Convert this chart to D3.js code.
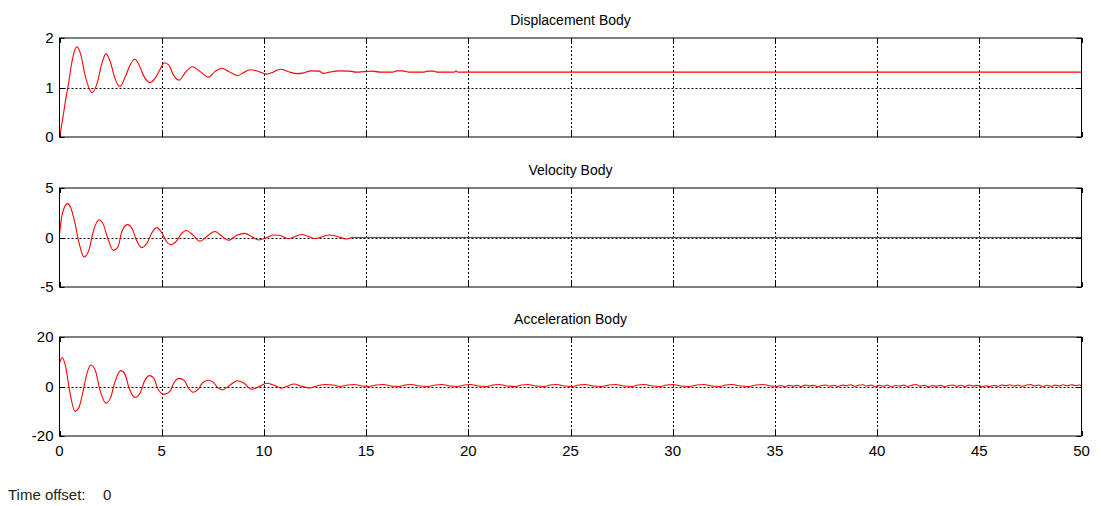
<!DOCTYPE html>
<html>
<head>
<meta charset="utf-8">
<script src="https://cdn.jsdelivr.net/npm/d3@7"></script>
<style>
  html, body { margin: 0; padding: 0; background: #fff; }
  svg { display: block; }
  text { font-family: "Liberation Sans", Arial, Helvetica, sans-serif; fill: #000; }
</style>
</head>
<body>
<svg id="chart" width="1101" height="506"></svg>
<script>
// Time axis ticks shared by all three scopes
const timeTicks = [0, 5, 10, 15, 20, 25, 30, 35, 40, 45, 50];

// Displacement of the body, [time, value]
const displacement = [
  [0, 0], [0.15, 0.35], [0.3, 0.75], [0.45, 1.1], [0.6, 1.5], [0.85, 1.82], [1.05, 1.65],
  [1.25, 1.25], [1.6, 0.9], [1.85, 1.1], [2.05, 1.45], [2.27, 1.68], [2.5, 1.5], [2.7, 1.2],
  [2.96, 1.02], [3.2, 1.2], [3.45, 1.45], [3.68, 1.57], [3.9, 1.45], [4.1, 1.25], [4.43, 1.1],
  [4.7, 1.2], [4.9, 1.35], [5.13, 1.5], [5.35, 1.45], [5.55, 1.27], [5.85, 1.15], [6.15, 1.3],
  [6.5, 1.42], [6.8, 1.35], [7.28, 1.21], [7.6, 1.32], [7.93, 1.39], [8.3, 1.32], [8.72, 1.24],
  [9.0, 1.3], [9.32, 1.36], [9.7, 1.33], [10.14, 1.27], [10.45, 1.31], [10.79, 1.37], [11.2, 1.32],
  [11.6, 1.28], [11.9, 1.29], [12.3, 1.335], [12.7, 1.33], [12.9, 1.285], [13.2, 1.31],
  [13.7, 1.335], [14.2, 1.33], [14.5, 1.31], [14.9, 1.32], [15.3, 1.33], [15.7, 1.31],
  [16.3, 1.31], [16.5, 1.335], [16.8, 1.335], [17.1, 1.31], [17.8, 1.31], [18.0, 1.33],
  [18.3, 1.33], [18.5, 1.31], [19.3, 1.31], [19.4, 1.335], [19.5, 1.31], [50, 1.31]
];

// Velocity of the body, [time, value]
const velocity = [
  [0, 0.3], [0.1, 2.0], [0.25, 3.1], [0.4, 3.42], [0.55, 3.0], [0.75, 1.5], [0.95, -0.5],
  [1.2, -1.97], [1.45, -1.2], [1.65, 0.6], [1.93, 1.8], [2.15, 1.3], [2.35, 0], [2.63, -1.3],
  [2.85, -1.0], [3.05, 0.6], [3.32, 1.3], [3.55, 0.9], [3.75, -0.2], [4.02, -1.02], [4.3, -0.5],
  [4.5, 0.4], [4.75, 1.0], [5.0, 0.5], [5.2, -0.3], [5.45, -0.72], [5.75, -0.3], [5.95, 0.35],
  [6.22, 0.7], [6.5, 0.3], [6.87, -0.38], [7.2, 0.1], [7.6, 0.6], [7.9, 0.2], [8.26, -0.28],
  [8.7, 0.25], [9.07, 0.42], [9.4, 0.1], [9.75, -0.25], [10.1, -0.05], [10.45, 0.25],
  [10.75, 0.22], [11.2, -0.12], [11.85, 0.3], [12.5, -0.1], [13.2, 0.25], [13.6, 0.1],
  [14.05, -0.15], [14.3, 0], [50, 0]
];

// Acceleration of the body, [time, value]
const acceleration = [
  [0, 9.5], [0.14, 11.7], [0.3, 8], [0.5, -2], [0.76, -10], [0.95, -8.5], [1.15, -2],
  [1.35, 5.5], [1.53, 8.7], [1.75, 6.5], [2.0, -2], [2.27, -6.7], [2.5, -4.5], [2.7, 1.5],
  [2.99, 6.4], [3.2, 5], [3.4, -0.5], [3.69, -4.4], [3.95, -2.5], [4.15, 2], [4.39, 4.4],
  [4.6, 3.5], [4.85, -1.5], [5.13, -3.1], [5.4, -2], [5.6, 1.5], [5.85, 3.3], [6.1, 2.5],
  [6.3, -0.5], [6.55, -2.3], [6.8, -1], [7.0, 1.5], [7.28, 2.5], [7.55, 1.5], [7.75, -0.5],
  [7.98, -1.3], [8.3, 0.3], [8.7, 2.3], [9.0, 1.5], [9.4, -1.1], [9.7, -0.3], [10.14, 1.3],
  [10.5, 0.5], [10.87, -0.7], [11.2, 0.3], [11.47, 1.0], [11.8, 0.2], [12.25, -0.6],
  [12.7, 0.5], [13.0, 0.8], [13.4, 0.6], [13.7, 0], [14.1, 0.6], [14.4, 0.8], [14.8, 0.2],
  [15.1, 0], [15.5, 0.6], [15.85, 0.8], [16.2, 0.2], [16.6, 0], [16.9, 0.6], [17.2, 0.8],
  [17.6, 0.2], [18.0, 0], [18.4, 0.6], [18.7, 0.8], [19.1, 0.2], [19.5, 0], [19.8, 0.6],
  [20.1, 0.8], [20.5, 0.2], [20.9, 0], [21.2, 0.6], [21.5, 0.8], [21.9, 0.2], [22.3, 0],
  [22.6, 0.6], [22.9, 0.8], [23.3, 0.2], [23.7, 0], [24.0, 0.6], [24.3, 0.8], [24.7, 0.2],
  [25.1, 0], [25.4, 0.6], [25.7, 0.8], [26.1, 0.2], [26.5, 0], [26.9, 0.6], [27.2, 0.8],
  [27.6, 0.2], [28.0, 0], [28.3, 0.6], [28.6, 0.8], [29.0, 0.2], [29.4, 0], [29.7, 0.6],
  [30.0, 0.8], [30.4, 0.2], [30.8, 0], [31.2, 0.6], [31.5, 0.8], [31.9, 0.2], [32.3, 0],
  [32.6, 0.6], [32.9, 0.8], [33.3, 0.2], [33.7, 0], [34.1, 0.6], [34.4, 0.8], [34.8, 0.2],
  [35.1, 0], [35.3, 0.4], [35.5, -0.1], [35.7, 0.5], [35.9, 0.1], [36.1, 0.5], [36.3, 0],
  [36.5, 0.6], [36.7, 0.2], [36.9, 0.5], [37.1, -0.1], [37.3, 0.4], [37.5, 0.6], [37.7, 0.1],
  [37.9, 0.5], [38.1, 0], [38.3, 0.6], [38.5, 0.3], [38.7, 0.7], [38.9, 0.1], [39.1, 0.5],
  [39.3, 0.7], [39.5, 0.2], [39.7, 0.6], [39.9, 0], [40.1, 0.5], [40.3, 0.1], [40.5, 0.6],
  [40.7, -0.1], [40.9, 0.4], [41.1, 0.2], [41.3, 0.6], [41.5, 0], [41.7, 0.5], [41.9, 0.8],
  [42.1, 0.1], [42.3, 0.5], [42.5, -0.1], [42.7, 0.4], [42.9, 0.1], [43.1, 0.5], [43.3, 0],
  [43.5, 0.4], [43.7, 0.6], [43.9, 0.1], [44.1, 0.5], [44.3, 0], [44.5, 0.6], [44.7, 0.2],
  [44.9, 0.5], [45.1, -0.1], [45.3, 0.3], [45.5, 0], [45.7, 0.4], [45.9, 0.1], [46.1, 0.6],
  [46.3, 0.3], [46.5, 0.7], [46.7, 0.2], [46.9, 0.6], [47.1, 0.1], [47.3, 0.5], [47.5, 0.8],
  [47.7, 0.2], [47.9, 0.6], [48.1, 0], [48.3, 0.5], [48.5, 0.1], [48.7, 0.6], [48.9, 0.2],
  [49.1, 0.7], [49.3, 0.3], [49.5, 0.7], [49.7, 0.4], [49.9, 0.6], [50, 0.2]
];

// One scope per signal
const panels = [
  { title: "Displacement Body", data: displacement, domain: [0, 2],   ticks: [0, 1, 2],       top: 38,  xLabels: false },
  { title: "Velocity Body",     data: velocity,     domain: [-5, 5],  ticks: [-5, 0, 5],      top: 188, xLabels: false },
  { title: "Acceleration Body", data: acceleration, domain: [-20, 20], ticks: [-20, 0, 20],   top: 337, xLabels: true }
];

const left = 59.5, right = 1081.5, panelH = 99;
const svg = d3.select("#chart");
const x = d3.scaleLinear().domain([0, 50]).range([left, right]);

panels.forEach(p => {
  const y = d3.scaleLinear().domain(p.domain).range([p.top + panelH, p.top]);
  const g = svg.append("g");

  // dashed grid
  g.append("g").selectAll("line.vx")
    .data(timeTicks.slice(1, -1)).join("line")
    .attr("x1", d => Math.round(x(d)) + 0.5).attr("x2", d => Math.round(x(d)) + 0.5)
    .attr("y1", p.top).attr("y2", p.top + panelH)
    .attr("stroke", "#000").attr("stroke-width", 1).attr("stroke-dasharray", "2,2");
  g.append("g").selectAll("line.hy")
    .data(p.ticks.slice(1, -1)).join("line")
    .attr("x1", left).attr("x2", right)
    .attr("y1", d => Math.round(y(d)) + 0.5).attr("y2", d => Math.round(y(d)) + 0.5)
    .attr("stroke", "#000").attr("stroke-width", 1).attr("stroke-dasharray", "2,2");

  // inward tick marks on all four sides
  const tl = 5;
  timeTicks.forEach(t => {
    const xx = Math.round(x(t)) + 0.5;
    g.append("line").attr("x1", xx).attr("x2", xx).attr("y1", p.top + panelH).attr("y2", p.top + panelH - tl).attr("stroke", "#000");
    g.append("line").attr("x1", xx).attr("x2", xx).attr("y1", p.top).attr("y2", p.top + tl).attr("stroke", "#000");
  });
  p.ticks.forEach(v => {
    const yy = Math.round(y(v)) + 0.5;
    g.append("line").attr("x1", left).attr("x2", left + tl).attr("y1", yy).attr("y2", yy).attr("stroke", "#000");
    g.append("line").attr("x1", right).attr("x2", right - tl).attr("y1", yy).attr("y2", yy).attr("stroke", "#000");
  });

  // signal trace
  g.append("path")
    .datum(p.data)
    .attr("fill", "none")
    .attr("stroke", "#ff0000")
    .attr("stroke-width", 1.1)
    .attr("d", d3.line().x(d => x(d[0])).y(d => y(d[1])).curve(d3.curveMonotoneX));

  // axes box
  g.append("rect")
    .attr("x", left).attr("y", p.top)
    .attr("width", right - left).attr("height", panelH)
    .attr("fill", "none").attr("stroke", "#000").attr("stroke-width", 1);

  // y tick labels
  g.append("g").selectAll("text")
    .data(p.ticks).join("text")
    .attr("x", left - 6).attr("y", d => y(d)).attr("dy", "0.36em")
    .attr("text-anchor", "end").attr("font-size", 15)
    .text(d => d);

  // x tick labels on the bottom scope only
  if (p.xLabels) {
    g.append("g").selectAll("text")
      .data(timeTicks).join("text")
      .attr("x", d => x(d)).attr("y", p.top + panelH + 20)
      .attr("text-anchor", "middle").attr("font-size", 15)
      .text(d => d);
  }

  // title
  g.append("text")
    .attr("x", (left + right) / 2).attr("y", p.top - 13)
    .attr("text-anchor", "middle").attr("font-size", 14)
    .text(p.title);
});

svg.append("text")
  .attr("x", 8).attr("y", 500)
  .attr("font-size", 15).style("fill", "#222")
  .text("Time offset:");
svg.append("text")
  .attr("x", 103).attr("y", 500)
  .attr("font-size", 15).style("fill", "#222")
  .text("0");
</script>
</body>
</html>
